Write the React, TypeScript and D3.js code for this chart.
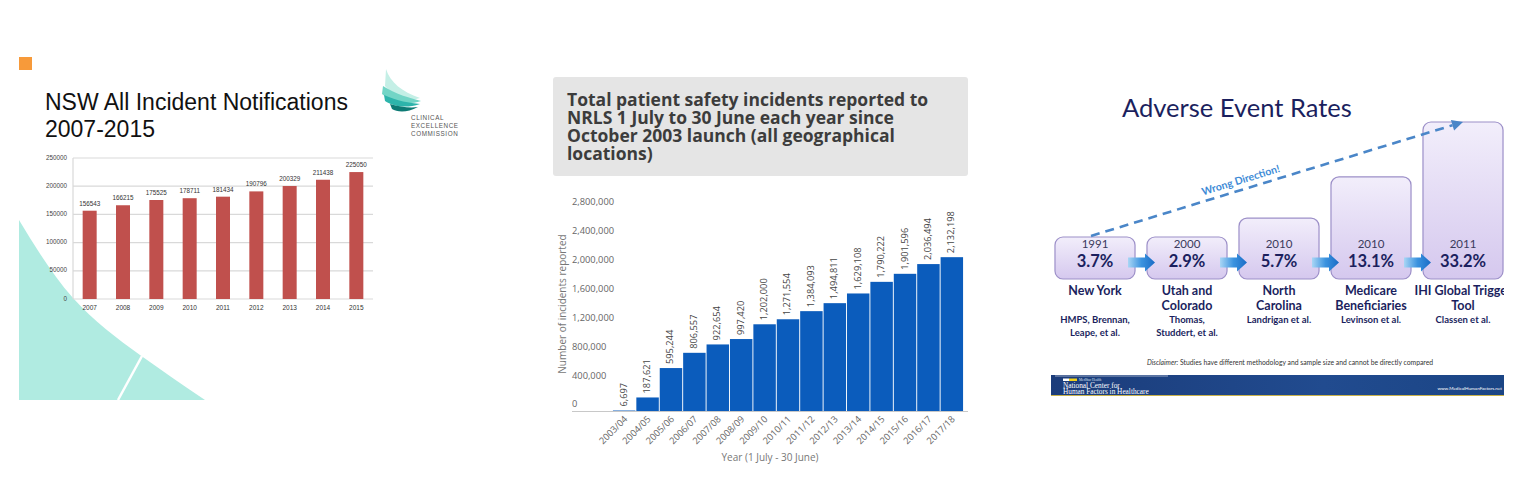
import * as d3 from 'd3';

// Panel 1: NSW incident notifications
const nswYears = ['2007', '2008', '2009', '2010', '2011', '2012', '2013', '2014', '2015'];
const nswCounts = [156543, 166215, 175525, 178711, 181434, 190796, 200329, 211438, 225050];
const nswTicks = [0, 50000, 100000, 150000, 200000, 250000];

// Panel 2: NRLS incidents per year
const nrlsTitle = [
  'Total patient safety incidents reported to',
  'NRLS 1 July to 30 June each year since',
  'October 2003 launch (all geographical',
  'locations)',
];
const nrlsYears = [
  '2003/04', '2004/05', '2005/06', '2006/07', '2007/08', '2008/09', '2009/10', '2010/11',
  '2011/12', '2012/13', '2013/14', '2014/15', '2015/16', '2016/17', '2017/18',
];
const nrlsCounts = [
  6697, 187621, 595244, 806557, 922654, 997420, 1202000, 1271554,
  1384093, 1494811, 1629108, 1790222, 1901596, 2036494, 2132198,
];
const nrlsTicks = [0, 400000, 800000, 1200000, 1600000, 2000000, 2400000, 2800000];

// Panel 3: adverse event rates
const aeYears = ['1991', '2000', '2010', '2010', '2011'];
const aeRates = [3.7, 2.9, 5.7, 13.1, 33.2];
const aeRegions = [
  ['New York'],
  ['Utah and', 'Colorado'],
  ['North', 'Carolina'],
  ['Medicare', 'Beneficiaries'],
  ['IHI Global Trigger', 'Tool'],
];
const aeSources = [
  ['HMPS, Brennan,', 'Leape, et al.'],
  ['Thomas,', 'Studdert, et al.'],
  ['Landrigan et al.'],
  ['Levinson et al.'],
  ['Classen et al.'],
];

const fmt = d3.format(',');

function NswPanel() {
  const x = d3.scaleBand<string>().domain(nswYears).range([73, 373]).paddingInner(0.58).paddingOuter(0.29);
  const y = d3.scaleLinear().domain([0, 250000]).range([299, 158]);
  const teal = d3.line().curve(d3.curveNatural)([
    [19, 220],
    [73, 298],
    [140, 355],
    [205, 400],
  ]);
  return (
    <g>
      <path d={`${teal}L19,400Z`} fill="#b0ebe1" />
      <line x1={142} y1={356} x2={118} y2={400} stroke="#fff" strokeWidth={2.5} />
      <rect x={19} y={57} width={13} height={13} fill="#f79a3a" />
      <text x={45} y={110} fontFamily="Liberation Sans, Arial" fontSize={23} fill="#111">
        NSW All Incident Notifications
      </text>
      <text x={45} y={137} fontFamily="Liberation Sans, Arial" fontSize={23} fill="#111">
        2007-2015
      </text>
      {/* logo */}
      <g>
        <path d="M386,69 C390,82 402,92 420,98 C408,102 393,96 385,86 Z" fill="#c4efe6" />
        <path d="M383,86 C395,94 410,98 421,101 C406,106 392,102 382,94 Z" fill="#72d5c6" />
        <path d="M384,95 C397,101 410,103 420,104 C405,109 393,106 385,101 Z" fill="#2db4ab" />
        <path d="M390,104 C400,107 410,108 418,107 C407,113 397,112 392,109 Z" fill="#0d7a74" />
        {['CLINICAL', 'EXCELLENCE', 'COMMISSION'].map((t, i) => (
          <text key={t} x={411} y={119.5 + i * 8.2} fontFamily="Liberation Sans, Arial" fontSize={6.3} letterSpacing={0.6} fill="#555">
            {t}
          </text>
        ))}
      </g>
      {nswTicks.map((t) => (
        <g key={t}>
          <line x1={73} x2={373} y1={y(t)} y2={y(t)} stroke="#d9d9d9" strokeWidth={1.2} />
          <text x={67} y={y(t)} textAnchor="end" dominantBaseline="middle" fontFamily="Liberation Sans, Arial" fontSize={6.3} fill="#444">
            {t}
          </text>
        </g>
      ))}
      <line x1={73} x2={73} y1={158} y2={299} stroke="#d9d9d9" strokeWidth={1.2} />
      {nswYears.map((yr, i) => (
        <g key={yr}>
          <rect x={x(yr)} y={y(nswCounts[i])} width={x.bandwidth()} height={y(0) - y(nswCounts[i])} fill="#c0504d" />
          <text x={x(yr)! + x.bandwidth() / 2} y={y(nswCounts[i]) - 5} textAnchor="middle" fontFamily="Liberation Sans, Arial" fontSize={6.3} fill="#333">
            {nswCounts[i]}
          </text>
          <text x={x(yr)! + x.bandwidth() / 2} y={309.5} textAnchor="middle" fontFamily="Liberation Sans, Arial" fontSize={6.5} fill="#333">
            {yr}
          </text>
        </g>
      ))}
    </g>
  );
}

function NrlsPanel() {
  const x = d3.scaleBand<string>().domain(nrlsYears).range([612, 964]).padding(0.04);
  const y = d3.scaleLinear().domain([0, 2800000]).range([411, 209]);
  const font = 'Open Sans, sans-serif';
  return (
    <g fontFamily={font}>
      <rect x={553} y={77} width={415} height={99} rx={3} fill="#e5e5e5" />
      {nrlsTitle.map((l, i) => (
        <text key={i} x={567} y={106 + i * 18} fontSize={17.5} fontWeight={700} fill="#3c3c3c">
          {l}
        </text>
      ))}
      {nrlsTicks.map((t) => (
        <text key={t} x={572} y={y(t) - 6} dominantBaseline="middle" fontSize={9.3} fill="#666">
          {fmt(t)}
        </text>
      ))}
      <text transform="translate(566,304) rotate(-90)" textAnchor="middle" fontSize={10} fill="#777">
        Number of incidents reported
      </text>
      {nrlsYears.map((yr, i) => {
        const cx = x(yr)! + x.bandwidth() / 2;
        return (
          <g key={yr}>
            <rect x={x(yr)} y={y(nrlsCounts[i])} width={x.bandwidth()} height={Math.max(1, y(0) - y(nrlsCounts[i]))} fill="#0b5cbc" />
            <text transform={`translate(${cx},${y(nrlsCounts[i]) - 4}) rotate(-90)`} dominantBaseline="middle" fontSize={9.3} fill="#444">
              {fmt(nrlsCounts[i])}
            </text>
            <text transform={`translate(${cx + 2},${418}) rotate(-45)`} textAnchor="end" dominantBaseline="middle" fontSize={9.3} fill="#666">
              {yr}
            </text>
          </g>
        );
      })}
      <line x1={572} x2={968} y1={411.5} y2={411.5} stroke="#c8c8c8" />
      <text x={770} y={461} textAnchor="middle" fontSize={10} fill="#777">
        Year (1 July - 30 June)
      </text>
    </g>
  );
}

function AdversePanel() {
  const idx = aeRates.map((_, i) => String(i));
  const x = d3.scaleBand<string>().domain(idx).range([1049, 1509]).paddingInner(0.13).paddingOuter(0.065);
  const h = d3.scalePow().exponent(0.2).domain([3.7, 33.2]).range([42, 157]).clamp(true);
  const base = 279;
  const bw = x.bandwidth();
  const cx = (i: number) => x(String(i))! + bw / 2;
  const top = (i: number) => base - h(aeRates[i]);
  const navy = '#1b1f5e';
  const font = 'Lato, sans-serif';

  // trend arrow from first box to last box
  const x0 = cx(0) - 4;
  const y0 = top(0) - 1;
  const x1 = cx(aeRates.length - 1);
  const y1 = top(aeRates.length - 1);
  const ang = Math.atan2(y1 - y0, x1 - x0);
  const deg = (ang * 180) / Math.PI;
  const headLen = 11;
  const lx = x1 - headLen * Math.cos(ang);
  const ly = y1 - headLen * Math.sin(ang);
  const t = 0.41;
  const tx = x0 + (x1 - x0) * t;
  const ty = y0 + (y1 - y0) * t;

  return (
    <g fontFamily={font}>
      <defs>
        <linearGradient id="boxGrad" x1="0" y1="0" x2="0" y2="1">
          <stop offset="0" stopColor="#f2eefb" />
          <stop offset="1" stopColor="#d5c8ee" />
        </linearGradient>
        <linearGradient id="arrowGrad" x1="0" y1="0" x2="1" y2="0">
          <stop offset="0" stopColor="#a9d6f5" />
          <stop offset="0.5" stopColor="#3b93df" />
          <stop offset="1" stopColor="#1a6cc6" />
        </linearGradient>
        <linearGradient id="footGrad" x1="0" y1="0" x2="1" y2="0">
          <stop offset="0" stopColor="#1b3c7a" />
          <stop offset="0.6" stopColor="#214b8f" />
          <stop offset="1" stopColor="#1b4585" />
        </linearGradient>
        <clipPath id="p3clip">
          <rect x={1040} y={80} width={464} height={330} />
        </clipPath>
      </defs>
      <g clipPath="url(#p3clip)">
        <text x={1122} y={117} fontSize={25.5} fill={navy}>
          Adverse Event Rates
        </text>
        {aeRates.map((r, i) => (
          <g key={i}>
            <rect x={x(String(i))} y={top(i)} width={bw} height={h(r)} rx={8} fill="url(#boxGrad)" stroke="#9c8fc8" strokeWidth={1.2} />
            <text x={cx(i)} y={245} textAnchor="middle" dominantBaseline="middle" fontSize={11.5} fill="#3a3a5c">
              {aeYears[i]}
            </text>
            <text x={cx(i)} y={263} textAnchor="middle" dominantBaseline="middle" fontSize={16.5} fontWeight={700} fill={navy}>
              {r.toFixed(1)}%
            </text>
            {aeRegions[i].map((l, j) => (
              <text key={l} x={cx(i)} y={295 + j * 15} textAnchor="middle" fontSize={12.5} fontWeight={700} fill={navy}>
                {l}
              </text>
            ))}
            {aeSources[i].map((l, j) => (
              <text key={l} x={cx(i)} y={322.5 + j * 13} textAnchor="middle" fontSize={9.5} fontWeight={700} fill={navy}>
                {l}
              </text>
            ))}
          </g>
        ))}
        {aeRates.slice(1).map((_, i) => {
          const g = (x(String(i))! + bw + x(String(i + 1))!) / 2;
          const a0 = g - 13;
          const a1 = g + 14;
          const cy = 262.5;
          return (
            <path
              key={i}
              d={`M${a0},${cy - 5}L${a1 - 10},${cy - 5}L${a1 - 10},${cy - 9}L${a1},${cy}L${a1 - 10},${cy + 9}L${a1 - 10},${cy + 5}L${a0},${cy + 5}Z`}
              fill="url(#arrowGrad)"
            />
          );
        })}
        <line x1={x0} y1={y0} x2={lx} y2={ly} stroke="#4a86c8" strokeWidth={2.6} strokeDasharray="9 6" />
        <path
          transform={`translate(${x1},${y1}) rotate(${deg})`}
          d={`M0,0L${-headLen},-5.5L${-headLen},5.5Z`}
          fill="#4a86c8"
        />
        <text transform={`translate(${tx},${ty}) rotate(${deg})`} y={-6} textAnchor="middle" fontSize={10.5} fontWeight={700} fill="#3d8ad6">
          Wrong Direction!
        </text>
        <text x={1290} y={365} textAnchor="middle" fontSize={6.8} fill="#333">
          <tspan fontStyle="italic">Disclaimer:</tspan>
          {'  Studies have different methodology and sample size and cannot be directly compared'}
        </text>
        <rect x={1051} y={375} width={454} height={21} fill="url(#footGrad)" />
        <line x1={1055} x2={1168} y1={376} y2={376} stroke="#b9c3d6" strokeWidth={0.8} />
        <line x1={1051} x2={1505} y1={395.5} y2={395.5} stroke="#c9b24a" strokeWidth={1.2} />
        <rect x={1063} y={378.5} width={6} height={2.5} fill="#fff" />
        <rect x={1069} y={378.5} width={8} height={2.5} fill="#f2d21c" />
        <text x={1079} y={381} fontSize={3.5} fill="#dfe6f2" fontFamily="Liberation Serif, serif">
          MedStar Health
        </text>
        <text x={1063} y={387.5} fontSize={7.3} fill="#fff" fontFamily="Liberation Serif, serif">
          National Center for
        </text>
        <text x={1063} y={393.5} fontSize={7.3} fill="#fff" fontFamily="Liberation Serif, serif">
          Human Factors in Healthcare
        </text>
        <text x={1502} y={390} textAnchor="end" fontSize={4.6} fill="#fff">
          www.MedicalHumanFactors.net
        </text>
      </g>
    </g>
  );
}

export default function App() {
  return (
    <svg
      width={1536}
      height={496}
      viewBox="0 0 1536 496"
      style={{ position: 'absolute', left: 0, top: 0, background: '#fff' }}
    >
      <NswPanel />
      <NrlsPanel />
      <AdversePanel />
    </svg>
  );
}
